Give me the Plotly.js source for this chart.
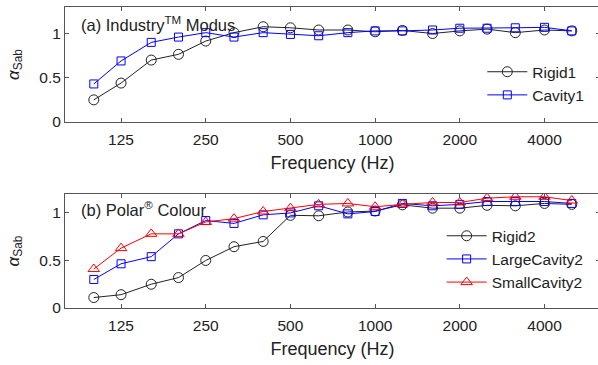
<!DOCTYPE html>
<html><head><meta charset="utf-8">
<script src="https://cdn.plot.ly/plotly-3.0.1.min.js"></script>
<style>html,body{margin:0;padding:0;overflow:hidden;background:#fff;}#c{width:602px;height:365px;}</style>
</head><body><div id="c"></div>
<script>
const freqs = [100,125,160,200,250,315,400,500,630,800,1000,1250,1600,2000,2500,3150,4000,5000];
const tickVals = [125,250,500,1000,2000,4000];
const tickText = ['125','250','500','1000','2000','4000'];
const rigid1 = [0.25,0.44,0.70,0.765,0.915,1.01,1.077,1.065,1.04,1.04,1.02,1.035,1.00,1.03,1.05,1.01,1.04,1.03];
const cavity1 = [0.43,0.69,0.90,0.96,1.01,0.96,1.01,0.99,0.975,1.01,1.03,1.03,1.04,1.06,1.06,1.065,1.07,1.03];
const rigid2 = [0.11,0.14,0.25,0.32,0.50,0.645,0.70,0.975,0.97,1.01,1.02,1.085,1.05,1.05,1.08,1.075,1.10,1.09];
const largeCavity2 = [0.30,0.465,0.54,0.78,0.92,0.89,0.98,1.00,1.075,0.99,1.015,1.10,1.075,1.09,1.12,1.12,1.12,1.10];
const smallCavity2 = [0.41,0.63,0.78,0.78,0.905,0.94,1.015,1.05,1.09,1.10,1.065,1.09,1.11,1.11,1.155,1.17,1.17,1.13];

const FONT = 'Arial, "Liberation Sans", sans-serif';
const BLACK = '#222', BLUE = '#0000ff', RED = '#ff0000';
function tr(y, name, color, sym, size, xa, ya, leg){
  return {x: freqs, y: y, name: name, type:'scatter', mode:'lines+markers',
    xaxis: xa, yaxis: ya, legend: leg,
    line:{color:color, width:1},
    marker:{symbol:sym, size:size, color:color, line:{color:color, width:1}}};
}
const data = [
  tr(rigid1,'Rigid1',BLACK,'circle-open',10,'x','y','legend'),
  tr(cavity1,'Cavity1',BLUE,'square-open',8,'x','y','legend'),
  tr(rigid2,'Rigid2',BLACK,'circle-open',10,'x2','y2','legend2'),
  tr(largeCavity2,'LargeCavity2',BLUE,'square-open',8,'x2','y2','legend2'),
  tr(smallCavity2,'SmallCavity2',RED,'triangle-up-open',10,'x2','y2','legend2')
];
const xr = [Math.log10(79), Math.log10(6300)];
function xax(anchor){
  return {type:'log', range:xr, anchor:anchor, tickvals:tickVals, ticktext:tickText,
    ticks:'inside', ticklen:4, tickcolor:'#555', showline:true, linecolor:'#555', linewidth:1,
    mirror:'ticks', showgrid:false, zeroline:false, tickfont:{size:15.5, color:'#222'},
    ticklabelstandoff:3,
    title:{text:'Frequency (Hz)', font:{size:18, color:'#222'}, standoff:9}};
}
function yax(anchor, domain, top){
  return {range:[0, top], domain:domain, anchor:anchor, tickvals:[0,0.5,1], ticktext:['0','0.5','1'],
    ticks:'inside', ticklen:4, tickcolor:'#555', showline:true, linecolor:'#555', linewidth:1,
    mirror:'ticks', showgrid:false, zeroline:false, tickfont:{size:15.5, color:'#222'},
    title:{text:'<i>α</i><sub>Sab</sub>', font:{size:17, color:'#222'}, standoff:15}};
}
const layout = {
  width:602, height:365, paper_bgcolor:'#fff', plot_bgcolor:'#fff',
  font:{family:FONT, color:'#222'},
  margin:{l:65, r:2, t:7, b:57},
  xaxis: xax('y'), yaxis: yax('x',[0.618,1],1.3),
  xaxis2: xax('y2'), yaxis2: yax('x2',[0,0.379],1.2),
  showlegend:true,
  legend:{x:0.78, y:0.84, xanchor:'left', yanchor:'top', bgcolor:'rgba(0,0,0,0)', font:{size:15.5, color:'#222'}, tracegroupgap:0, itemwidth:40},
  legend2:{x:0.704, y:0.295, xanchor:'left', yanchor:'top', bgcolor:'rgba(0,0,0,0)', font:{size:15.5, color:'#222'}, tracegroupgap:0, itemwidth:40},
  annotations:[
    {xref:'paper', yref:'paper', x:0.026, y:0.985, xanchor:'left', yanchor:'top', showarrow:false,
     text:'(a) Industry<sup>TM</sup> Modus', font:{size:16.5, color:'#222'}},
    {xref:'paper', yref:'paper', x:0.026, y:0.37, xanchor:'left', yanchor:'top', showarrow:false,
     text:'(b) Polar<sup>®</sup> Colour', font:{size:16.5, color:'#222'}}
  ]
};
Plotly.newPlot('c', data, layout, {displayModeBar:false, staticPlot:true});
</script></body></html>
